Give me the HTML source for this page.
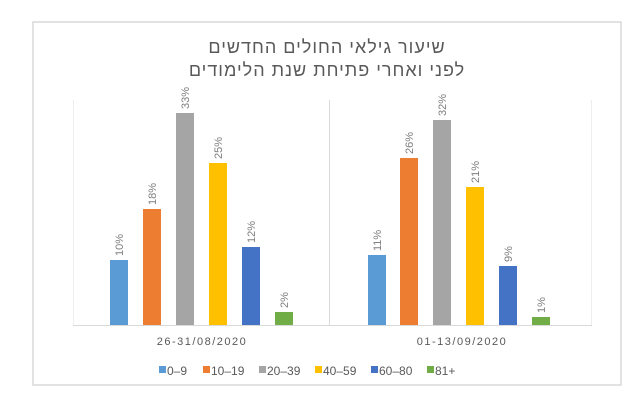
<!DOCTYPE html>
<html><head><meta charset="utf-8"><style>
body{margin:0;background:#fff;width:638px;height:413px;overflow:hidden}
text{font-family:"Liberation Sans","DejaVu Sans",sans-serif}
</style></head><body>
<svg width="638" height="413" viewBox="0 0 638 413">
<rect x="33" y="22" width="588" height="363" fill="#fff" stroke="#d9d9d9" stroke-width="1.5"/>
<text x="327" y="53" text-anchor="middle" font-size="18" fill="#595959" letter-spacing="1">שיעור גילאי החולים החדשים</text>
<text x="327" y="76" text-anchor="middle" font-size="18" fill="#595959" letter-spacing="1">לפני ואחרי פתיחת שנת הלימודים</text>
<line x1="73" y1="325.5" x2="592" y2="325.5" stroke="#d9d9d9"/>
<line x1="329.5" y1="100" x2="329.5" y2="325" stroke="#d9d9d9"/>
<line x1="73.5" y1="100" x2="73.5" y2="325" stroke="#eee"/>
<line x1="591.5" y1="100" x2="591.5" y2="325" stroke="#eee"/>
<g>
<rect x="110" y="260" width="18" height="65" fill="#5b9bd5"/>
<rect x="143" y="209" width="18" height="116" fill="#ed7d31"/>
<rect x="176" y="113" width="18" height="212" fill="#a5a5a5"/>
<rect x="209" y="163" width="18" height="162" fill="#ffc000"/>
<rect x="242" y="247" width="18" height="78" fill="#4472c4"/>
<rect x="275" y="312" width="18" height="13" fill="#70ad47"/>
<rect x="368" y="255" width="18" height="70" fill="#5b9bd5"/>
<rect x="400" y="158" width="18" height="167" fill="#ed7d31"/>
<rect x="433" y="120" width="18" height="205" fill="#a5a5a5"/>
<rect x="466" y="187" width="18" height="138" fill="#ffc000"/>
<rect x="499" y="266" width="18" height="59" fill="#4472c4"/>
<rect x="532" y="317" width="18" height="8" fill="#70ad47"/>
</g>
<g font-size="11" fill="#7f7f7f">
<text transform="translate(123,256) rotate(-90)">10%</text>
<text transform="translate(156,205) rotate(-90)">18%</text>
<text transform="translate(189,109) rotate(-90)">33%</text>
<text transform="translate(222,159) rotate(-90)">25%</text>
<text transform="translate(255,243) rotate(-90)">12%</text>
<text transform="translate(288,308) rotate(-90)">2%</text>
<text transform="translate(381,251) rotate(-90)">11%</text>
<text transform="translate(413,154) rotate(-90)">26%</text>
<text transform="translate(446,116) rotate(-90)">32%</text>
<text transform="translate(479,183) rotate(-90)">21%</text>
<text transform="translate(512,262) rotate(-90)">9%</text>
<text transform="translate(545,313) rotate(-90)">1%</text>
</g>
<g font-size="11" fill="#595959" text-anchor="middle" letter-spacing="1.5">
<text x="202" y="345">26-31/08/2020</text>
<text x="462" y="345">01-13/09/2020</text>
</g>
<g font-size="12" fill="#595959">
<rect x="159" y="366" width="7" height="7" fill="#5b9bd5"/><text x="167" y="375">0–9</text>
<rect x="203" y="366" width="7" height="7" fill="#ed7d31"/><text x="211" y="375">10–19</text>
<rect x="259" y="366" width="7" height="7" fill="#a5a5a5"/><text x="267" y="375">20–39</text>
<rect x="315" y="366" width="7" height="7" fill="#ffc000"/><text x="323" y="375">40–59</text>
<rect x="371" y="366" width="7" height="7" fill="#4472c4"/><text x="379" y="375">60–80</text>
<rect x="427" y="366" width="7" height="7" fill="#70ad47"/><text x="435" y="375">81+</text>
</g>
</svg>
</body></html>
